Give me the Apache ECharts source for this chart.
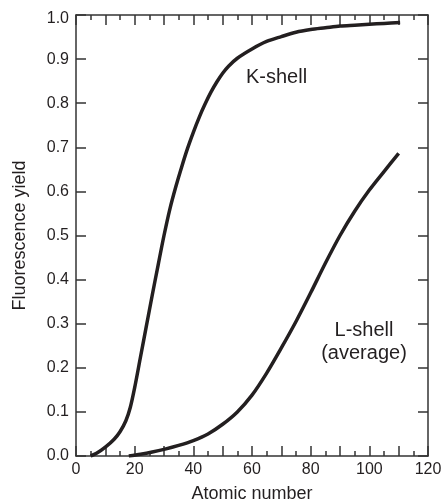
<!DOCTYPE html>
<html>
<head>
<meta charset="utf-8">
<script src="https://cdn.jsdelivr.net/npm/echarts@6/dist/echarts.min.js"></script>
<style>html,body{margin:0;padding:0;background:#fff;}#c{width:441px;height:499px;}</style>
</head>
<body>
<div id="c"></div>
<script>
// Data
const kZ = [5, 7, 10, 13, 15, 17, 18.5, 20, 22, 24, 26, 28, 30, 32, 34, 36, 38, 40, 42, 44, 46, 48, 50, 52, 55, 60, 65, 70, 75, 80, 85, 90, 95, 100, 105, 110.5];
const kYield = [0, 0.006, 0.02, 0.038, 0.055, 0.08, 0.11, 0.155, 0.225, 0.295, 0.365, 0.433, 0.5, 0.56, 0.61, 0.655, 0.697, 0.734, 0.768, 0.798, 0.825, 0.848, 0.868, 0.884, 0.902, 0.923, 0.94, 0.951, 0.961, 0.967, 0.971, 0.975, 0.977, 0.979, 0.981, 0.983];
const lZ = [18, 22, 26, 30, 35, 40, 45, 50, 55, 60, 65, 70, 75, 80, 85, 90, 95, 100, 105, 110];
const lYield = [0, 0.004, 0.009, 0.015, 0.024, 0.035, 0.05, 0.072, 0.1, 0.138, 0.188, 0.245, 0.305, 0.37, 0.437, 0.5, 0.555, 0.603, 0.645, 0.686];
const xTitle = 'Atomic number';
const yTitle = 'Fluorescence yield';
const kLabel = 'K-shell';
const lLabel1 = 'L-shell';
const lLabel2 = '(average)';

const INK = '#231f20';
const AX = '#333333';
const FONT = 'Liberation Sans, Arial, Helvetica, sans-serif';

function pairs(xs, ys) { return xs.map((x, i) => [x, ys[i]]); }

const xBase = {
  type: 'value', min: 0, max: 120, interval: 10,
  axisLine: { show: true, onZero: false, lineStyle: { color: AX, width: 1.5 } },
  axisTick: { show: true, inside: true, length: 10, lineStyle: { color: AX, width: 1.5 } },
  minorTick: { show: true, splitNumber: 2, length: 5, lineStyle: { color: AX, width: 1.5 } },
  splitLine: { show: false }
};
const yBase = {
  type: 'value', min: 0, max: 1, interval: 0.1,
  axisLine: { show: true, onZero: false, lineStyle: { color: AX, width: 1.5 } },
  axisTick: { show: true, inside: true, length: 10, lineStyle: { color: AX, width: 1.5 } },
  splitLine: { show: false }
};

const chart = echarts.init(document.getElementById('c'), null, { renderer: 'canvas' });
chart.setOption({
  animation: false,
  backgroundColor: '#ffffff',
  grid: { left: 76, right: 13, top: 15, bottom: 43, containLabel: false, outerBoundsMode: 'none' },
  xAxis: [
    Object.assign({}, xBase, {
      position: 'bottom',
      name: xTitle, nameLocation: 'middle', nameGap: 29,
      nameTextStyle: { color: INK, fontFamily: FONT, fontSize: 18 },
      axisLabel: { show: true, color: INK, fontFamily: FONT, fontSize: 16, margin: 6,
        formatter: v => (v % 20 === 0 ? String(v) : '') }
    }),
    Object.assign({}, xBase, { position: 'top', axisLabel: { show: false } })
  ],
  yAxis: [
    Object.assign({}, yBase, {
      position: 'left',
      name: yTitle, nameLocation: 'middle', nameGap: 47,
      nameTextStyle: { color: INK, fontFamily: FONT, fontSize: 18 },
      axisLabel: { show: true, color: INK, fontFamily: FONT, fontSize: 16, margin: 7,
        formatter: v => (Math.abs(v - 1) < 1e-9 ? '{top|1.0}' : v.toFixed(1)),
        rich: { top: { fontSize: 16, fontFamily: FONT, color: INK, padding: [8, 0, 0, 0] } } }
    }),
    Object.assign({}, yBase, { position: 'right', axisLabel: { show: false } })
  ],
  series: [
    { type: 'line', name: 'K-shell', xAxisIndex: 0, yAxisIndex: 0, data: pairs(kZ, kYield),
      smooth: 0.3, showSymbol: false, symbol: 'none', lineStyle: { color: INK, width: 3.5 } },
    { type: 'line', name: 'L-shell', xAxisIndex: 0, yAxisIndex: 0, data: pairs(lZ, lYield),
      smooth: 0.3, showSymbol: false, symbol: 'none', lineStyle: { color: INK, width: 3.5 } }
  ],
  graphic: [
    { type: 'text', x: 246, y: 77, style: { text: kLabel, fill: INK, font: '20px ' + FONT, verticalAlign: 'middle' } },
    { type: 'text', x: 364, y: 330, style: { text: lLabel1, fill: INK, font: '20px ' + FONT, align: 'center', verticalAlign: 'middle' } },
    { type: 'text', x: 364, y: 353, style: { text: lLabel2, fill: INK, font: '20px ' + FONT, align: 'center', verticalAlign: 'middle' } }
  ]
});
</script>
</body>
</html>
